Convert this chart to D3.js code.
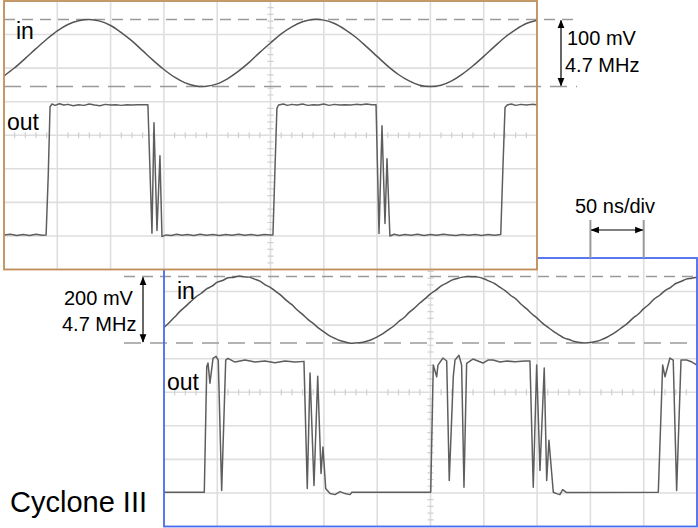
<!DOCTYPE html>
<html>
<head>
<meta charset="utf-8">
<script src="https://cdn.jsdelivr.net/npm/d3@7"></script>
<style>
  html, body { margin: 0; padding: 0; background: #fff; }
  svg { display: block; }
  text { font-family: "Liberation Sans", Arial, Helvetica, sans-serif; fill: #000; }
</style>
</head>
<body>
<svg id="chart" width="698" height="528"></svg>
<script>
// ---------- DATA (time in ns, 50 ns/div; level in vertical divisions) ----------
const timeGrid = [0, 50, 100, 150, 200, 250, 300, 350, 400, 450, 500];
const levelGrid = [-4, -3, -2, -1, 0, 1, 2, 3, 4];
const refLevelsTop = [3.45, 1.45];
const refLevelsBottom = [3.45, 1.47];
const panelLabels = ["in", "out"];
const scaleTextTop = ["100 mV", "4.7 MHz"];
const scaleTextBottom = ["200 mV", "4.7 MHz"];
const timeBaseText = "50 ns/div";
const deviceName = "Cyclone III";

// top panel: input sine
const topIn = [[0,1.77],[10,2.01],[20,2.29],[30,2.58],[40,2.86],[50,3.11],[60,3.30],[70,3.41],[80,3.45],[90,3.40],
  [100,3.27],[110,3.06],[120,2.81],[130,2.52],[140,2.23],[150,1.96],[160,1.73],[170,1.56],[180,1.47],[190,1.46],
  [200,1.53],[210,1.69],[220,1.91],[230,2.17],[240,2.47],[250,2.75],[260,3.02],[270,3.23],[280,3.38],[290,3.45],
  [300,3.43],[310,3.33],[320,3.15],[330,2.92],[340,2.64],[350,2.35],[360,2.06],[370,1.81],[380,1.62],[390,1.49],
  [400,1.45],[410,1.49],[420,1.62],[430,1.82],[440,2.07],[450,2.35],[460,2.64],[470,2.92],[480,3.15],[490,3.33],[500,3.43]];

// top panel: output
const topOut = [[0,-2.97],[6,-2.95],[12,-2.99],[18,-2.96],[24,-2.99],[30,-2.95],[36,-2.98],[39.5,-2.97],
  [41.5,-1.2],[43.2,0.85],[45,0.93],[48,0.89],[52,0.94],[56,0.90],[60,0.92],[65,0.88],[70,0.91],[75,0.89],[80,0.93],
  [85,0.90],[90,0.88],[95,0.92],[100,0.90],[105,0.91],[110,0.89],[115,0.91],[120,0.90],[125,0.91],[130,0.91],[135,0.91],
  [138.8,-2.92],[140.7,0.37],[143.5,-2.84],[146.3,-0.61],[148.2,-3.02],[152,-2.97],[157,-2.99],[162,-2.95],[167,-2.98],
  [172,-2.96],[178,-2.99],[184,-2.95],[190,-2.98],[196,-2.96],[202,-2.99],[208,-2.96],[214,-2.98],[220,-2.95],[226,-2.98],
  [232,-2.96],[238,-2.99],[244,-2.96],[250,-2.97],[252.3,-2.97],
  [254.2,-1.0],[256,0.80],[257.5,0.90],[262,0.93],[266,0.89],[270,0.92],[275,0.90],[280,0.93],[285,0.89],[290,0.91],
  [295,0.90],[300,0.93],[305,0.89],[310,0.92],[315,0.90],[320,0.91],[325,0.90],[330,0.92],[335,0.91],[340,0.93],[345,0.91],[349,0.91],
  [351.8,-2.93],[354.6,0.28],[357.4,-2.63],[359.3,-0.70],[362,-3.0],[366,-2.95],[371,-2.99],[376,-2.96],[382,-2.98],
  [388,-2.95],[394,-2.99],[400,-2.96],[406,-2.98],[412,-2.95],[418,-2.97],[424,-2.99],[430,-2.96],[436,-2.98],[442,-2.96],
  [448,-2.99],[454,-2.96],[460,-2.98],[466,-2.96],
  [468,-1.0],[470,0.83],[472,0.90],[476,0.93],[480,0.89],[485,0.92],[490,0.90],[495,0.92],[500,0.91]];

// bottom panel: input sine (noisier)
const botIn = [[0,1.93],[5,2.08],[10,2.24],[15,2.41],[20,2.55],[25,2.70],[30,2.84],[35,2.95],[40,3.08],[45,3.16],[50,3.28],
  [55,3.33],[60,3.41],[65,3.42],[70,3.46],[75,3.44],[80,3.43],[85,3.37],[90,3.31],[95,3.20],[100,3.12],[105,3.00],[110,2.88],
  [115,2.73],[120,2.61],[125,2.45],[130,2.32],[135,2.17],[140,2.05],[145,1.91],[150,1.80],[155,1.69],[160,1.61],[165,1.54],
  [170,1.50],[175,1.46],[180,1.47],[185,1.48],[190,1.52],[195,1.57],[200,1.65],[205,1.74],[210,1.85],[215,1.96],[220,2.10],
  [225,2.22],[230,2.38],[235,2.51],[240,2.66],[245,2.79],[250,2.93],[255,3.04],[260,3.17],[265,3.25],[270,3.34],[275,3.39],
  [280,3.43],[285,3.45],[290,3.44],[295,3.43],[300,3.38],[305,3.31],[310,3.24],[315,3.13],[320,3.03],[325,2.89],[330,2.78],
  [335,2.62],[340,2.49],[345,2.34],[350,2.21],[355,2.06],[360,1.94],[365,1.82],[370,1.72],[375,1.62],[380,1.57],[385,1.51],
  [390,1.48],[395,1.47],[400,1.48],[405,1.51],[410,1.56],[415,1.63],[420,1.72],[425,1.82],[430,1.94],[435,2.06],[440,2.21],
  [445,2.33],[450,2.49],[455,2.62],[460,2.78],[465,2.89],[470,3.03],[475,3.12],[480,3.24],[485,3.30],[490,3.37],[495,3.40],[500,3.43]];

// bottom panel: output with glitches
const botOut = [[0,-2.98],[37.8,-2.98],[40.1,0.76],[41.3,0.87],[43.1,0.27],[46,1.01],[48.8,1.07],[50.9,0.96],
  [54.1,-2.93],[57.9,0.96],[60,1.01],[66.6,0.90],[76,0.96],[85.4,0.90],[94.7,0.93],[104.1,0.88],[113.5,0.93],[122.9,0.90],
  [131.3,0.92],[134.4,-2.87],[137,0.57],[140.7,-2.78],[144.2,0.48],[147.3,-2.42],[149.1,-1.63],[151.7,-2.87],
  [155.7,-3.02],[160.4,-3.05],[165.1,-2.96],[169.8,-3.02],[174.5,-3.05],[176.3,-2.98],[250.2,-2.98],
  [252.6,0.81],[255.8,0.46],[257,0.81],[261.7,1.02],[265.2,0.93],[267.6,-2.63],[271.4,0.48],[273,0.96],[276.7,1.10],
  [279.2,0.81],[281.4,-2.83],[283.9,0.86],[289.8,0.99],[294.5,0.93],[299.2,0.87],[303.9,0.96],[308.6,0.96],[315.2,0.90],
  [321.7,0.93],[329.2,0.91],[338.6,0.93],[343.3,0.93],[346.4,-2.83],[349.6,0.81],[352.7,-2.33],[356.7,0.72],[359,-2.63],
  [361.1,-1.43],[365.2,-2.98],[368.3,-3.02],[371.4,-3.05],[374,-2.90],[377.7,-2.99],[463.7,-2.98],
  [467.8,0.81],[470,0.46],[474.6,1.02],[477.7,0.96],[480.9,-2.93],[485,0.96],[490.3,0.96],[495.3,0.90],[500,0.81]];

// ---------- DRAWING ----------
const svg = d3.select("#chart");
const defs = svg.append("defs");
defs.append("marker").attr("id", "ah").attr("viewBox", "0 0 10 10").attr("refX", 9).attr("refY", 5)
  .attr("markerWidth", 7).attr("markerHeight", 7).attr("orient", "auto-start-reverse")
  .append("path").attr("d", "M0,1 L10,5 L0,9 Z").attr("fill", "#000");

const W = 533, H = 268.5;

function drawPanel(cfg) {
  const x = d3.scaleLinear().domain([0, 500]).range([cfg.x0, cfg.x0 + W]);
  const y = d3.scaleLinear().domain([-4, 4]).range([cfg.y0 + H, cfg.y0]);
  const g = svg.append("g");
  const clipId = "clip" + cfg.id;
  defs.append("clipPath").attr("id", clipId).append("rect")
    .attr("x", cfg.x0).attr("y", cfg.y0).attr("width", W).attr("height", H);

  g.append("rect").attr("x", cfg.x0).attr("y", cfg.y0).attr("width", W).attr("height", H).attr("fill", "#fff");

  const grid = g.append("g").attr("clip-path", `url(#${clipId})`);
  grid.selectAll("line.v").data(timeGrid).join("line")
    .attr("x1", d => x(d)).attr("x2", d => x(d)).attr("y1", y(-4)).attr("y2", y(4))
    .attr("stroke", "#dedede").attr("stroke-width", 1.6);
  grid.selectAll("line.h").data(levelGrid).join("line")
    .attr("y1", d => y(d)).attr("y2", d => y(d)).attr("x1", x(0)).attr("x2", x(500))
    .attr("stroke", "#dedede").attr("stroke-width", 1.6);

  // minor ticks on centre axes
  const minorT = d3.range(0, 501, 10).filter(d => d % 50 !== 0);
  grid.selectAll("line.mt").data(minorT).join("line")
    .attr("x1", d => x(d)).attr("x2", d => x(d)).attr("y1", y(0) - 3).attr("y2", y(0) + 3)
    .attr("stroke", "#cfcfcf").attr("stroke-width", 1.2);
  const minorV = d3.range(-4, 4.001, 0.2).filter(d => Math.abs(d - Math.round(d)) > 0.01);
  grid.selectAll("line.mv").data(minorV).join("line")
    .attr("y1", d => y(d)).attr("y2", d => y(d)).attr("x1", x(250) - 3).attr("x2", x(250) + 3)
    .attr("stroke", "#cfcfcf").attr("stroke-width", 1.2);

  // reference dashed lines
  g.append("line").attr("x1", cfg.dashX0).attr("x2", cfg.dashX1)
    .attr("y1", y(cfg.refs[0])).attr("y2", y(cfg.refs[0]))
    .attr("stroke", "#9a9a9a").attr("stroke-width", 1.5).attr("stroke-dasharray", "11,7");
  g.append("line").attr("x1", cfg.dashX0).attr("x2", cfg.dashX1)
    .attr("y1", y(cfg.refs[1])).attr("y2", y(cfg.refs[1]))
    .attr("stroke", "#9a9a9a").attr("stroke-width", 1.5).attr("stroke-dasharray", "17,9");

  const traces = g.append("g").attr("clip-path", `url(#${clipId})`);
  traces.append("path").datum(cfg.inData)
    .attr("d", d3.line().x(d => x(d[0])).y(d => y(d[1])).curve(d3.curveCatmullRom))
    .attr("fill", "none").attr("stroke", "#555").attr("stroke-width", 1.5);
  traces.append("path").datum(cfg.outData)
    .attr("d", d3.line().x(d => x(d[0])).y(d => y(d[1])))
    .attr("fill", "none").attr("stroke", "#5e5e5e").attr("stroke-width", 1.5).attr("stroke-linejoin", "round");

  g.append("rect").attr("x", cfg.x0).attr("y", cfg.y0).attr("width", W).attr("height", H)
    .attr("fill", "none").attr("stroke", cfg.border).attr("stroke-width", 1.8);

  g.append("text").attr("x", cfg.inLabel[0]).attr("y", cfg.inLabel[1]).attr("font-size", 23).text(panelLabels[0]);
  g.append("text").attr("x", cfg.outLabel[0]).attr("y", cfg.outLabel[1]).attr("font-size", 23).text(panelLabels[1]);
  return { x, y };
}

// bottom panel first (it sits behind the top panel)
const botPanel = drawPanel({ id: "b", x0: 164, y0: 258, border: "#4a6cf0", refs: refLevelsBottom,
  dashX0: 124, dashX1: 697, inData: botIn, outData: botOut, inLabel: [177, 299], outLabel: [167, 390] });

// time-base marker (50 ns/div) above bottom panel
[400, 450].forEach(t => {
  svg.append("line").attr("x1", botPanel.x(t)).attr("x2", botPanel.x(t)).attr("y1", 220).attr("y2", 258)
    .attr("stroke", "#999").attr("stroke-width", 2);
});
svg.append("line").attr("x1", botPanel.x(400) + 1).attr("x2", botPanel.x(450) - 1).attr("y1", 230).attr("y2", 230)
  .attr("stroke", "#000").attr("stroke-width", 1.2)
  .attr("marker-start", "url(#ah)").attr("marker-end", "url(#ah)");
svg.append("text").attr("x", 575).attr("y", 213).attr("font-size", 20).text(timeBaseText);

// top panel
const topPanel = drawPanel({ id: "t", x0: 4, y0: 1, border: "#c09058", refs: refLevelsTop,
  dashX0: 4, dashX1: 577, inData: topIn, outData: topOut, inLabel: [16, 39], outLabel: [7, 130] });

// amplitude annotations
svg.append("line").attr("x1", 561).attr("x2", 561)
  .attr("y1", topPanel.y(refLevelsTop[0]) + 1).attr("y2", topPanel.y(refLevelsTop[1]) - 1)
  .attr("stroke", "#000").attr("stroke-width", 1.2)
  .attr("marker-start", "url(#ah)").attr("marker-end", "url(#ah)");
svg.append("text").attr("x", 567).attr("y", 45).attr("font-size", 20).text(scaleTextTop[0]);
svg.append("text").attr("x", 565).attr("y", 72).attr("font-size", 20).text(scaleTextTop[1]);

svg.append("line").attr("x1", 143).attr("x2", 143)
  .attr("y1", botPanel.y(refLevelsBottom[0]) + 1).attr("y2", botPanel.y(refLevelsBottom[1]) - 1)
  .attr("stroke", "#000").attr("stroke-width", 1.2)
  .attr("marker-start", "url(#ah)").attr("marker-end", "url(#ah)");
svg.append("text").attr("x", 64).attr("y", 305).attr("font-size", 20).text(scaleTextBottom[0]);
svg.append("text").attr("x", 62).attr("y", 331).attr("font-size", 20).text(scaleTextBottom[1]);

svg.append("text").attr("x", 10).attr("y", 512).attr("font-size", 29).text(deviceName);
</script>
</body>
</html>
